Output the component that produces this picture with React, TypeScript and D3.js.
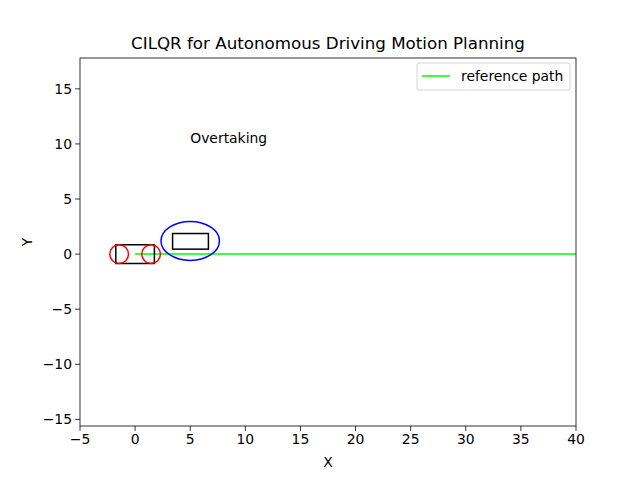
import React from "react";
import * as d3 from "d3";

const xTicks = [-5, 0, 5, 10, 15, 20, 25, 30, 35, 40];
const yTicks = [-15, -10, -5, 0, 5, 10, 15];
const refPathX = [0, 40];
const refPathY = [0, 0];
const egoRect = { x0: -1.75, x1: 1.75, y0: -0.85, y1: 0.85 };
const egoCircles = [{ x: -1.45, y: 0, r: 0.85 }, { x: 1.45, y: 0, r: 0.85 }];
const obsRect = { x0: 3.4, x1: 6.65, y0: 0.45, y1: 1.87 };
const obsEllipse = { x: 5, y: 1.2, rx: 2.65, ry: 1.77 };

export default function App() {
  const W = 640, H = 480;
  const L = 80, R = 576, T = 58, B = 426;
  const x = d3.scaleLinear().domain([-5, 40]).range([L, R]);
  const y = d3.scaleLinear().domain([-15.6, 17.8]).range([B, T]);
  const sx = (v: number) => x(v) - x(0);
  const sy = (v: number) => y(0) - y(v);
  const line = d3.line<number>().x((_, i) => x(refPathX[i])).y((_, i) => y(refPathY[i]));
  const font = "DejaVu Sans";
  const fs = 13.9;
  return (
    <svg width={W} height={H} style={{ position: "absolute", left: 0, top: 0 }} fontFamily={font}>
      <rect width={W} height={H} fill="white" />
      <defs>
        <clipPath id="c"><rect x={L} y={T} width={R - L} height={B - T} /></clipPath>
      </defs>
      <g clipPath="url(#c)">
        <path d={line(refPathX) || ""} stroke="#00ff00" strokeWidth={1.5} fill="none" />
        <rect x={x(egoRect.x0)} y={y(egoRect.y1)} width={x(egoRect.x1) - x(egoRect.x0)} height={y(egoRect.y0) - y(egoRect.y1)} fill="none" stroke="black" strokeWidth={1.5} />
        {egoCircles.map((c, i) => (
          <ellipse key={i} cx={x(c.x)} cy={y(c.y)} rx={sx(c.r)} ry={sy(c.r)} fill="none" stroke="red" strokeWidth={1.5} />
        ))}
        <rect x={x(obsRect.x0)} y={y(obsRect.y1)} width={x(obsRect.x1) - x(obsRect.x0)} height={y(obsRect.y0) - y(obsRect.y1)} fill="none" stroke="black" strokeWidth={1.5} />
        <ellipse cx={x(obsEllipse.x)} cy={y(obsEllipse.y)} rx={sx(obsEllipse.rx)} ry={sy(obsEllipse.ry)} fill="none" stroke="blue" strokeWidth={1.5} />
      </g>
      <text x={x(5)} y={y(10) - 1} fontSize={fs}>Overtaking</text>
      <rect x={L} y={T} width={R - L} height={B - T} fill="none" stroke="black" strokeWidth={0.8} />
      {xTicks.map(t => (
        <g key={t}>
          <line x1={x(t)} x2={x(t)} y1={B} y2={B + 4.9} stroke="black" strokeWidth={0.8} />
          <text x={x(t)} y={B + 18} fontSize={fs} textAnchor="middle">{t < 0 ? "−" + (-t) : t}</text>
        </g>
      ))}
      {yTicks.map(t => (
        <g key={t}>
          <line x1={L - 4.9} x2={L} y1={y(t)} y2={y(t)} stroke="black" strokeWidth={0.8} />
          <text x={L - 8} y={y(t)} fontSize={fs} textAnchor="end" dominantBaseline="central">{t < 0 ? "−" + (-t) : t}</text>
        </g>
      ))}
      <text x={(L + R) / 2} y={467} fontSize={fs} textAnchor="middle">X</text>
      <text x={32} y={(T + B) / 2} fontSize={fs} textAnchor="middle" transform={`rotate(-90 32 ${(T + B) / 2})`}>Y</text>
      <text x={(L + R) / 2} y={49} fontSize={16.7} textAnchor="middle">CILQR for Autonomous Driving Motion Planning</text>
      <rect x={417} y={63} width={153} height={27} rx={2} fill="white" stroke="#cccccc" strokeWidth={0.8} />
      <line x1={422} x2={450} y1={76} y2={76} stroke="#00ff00" strokeWidth={1.5} />
      <text x={461} y={76} fontSize={fs} dominantBaseline="central">reference path</text>
    </svg>
  );
}
